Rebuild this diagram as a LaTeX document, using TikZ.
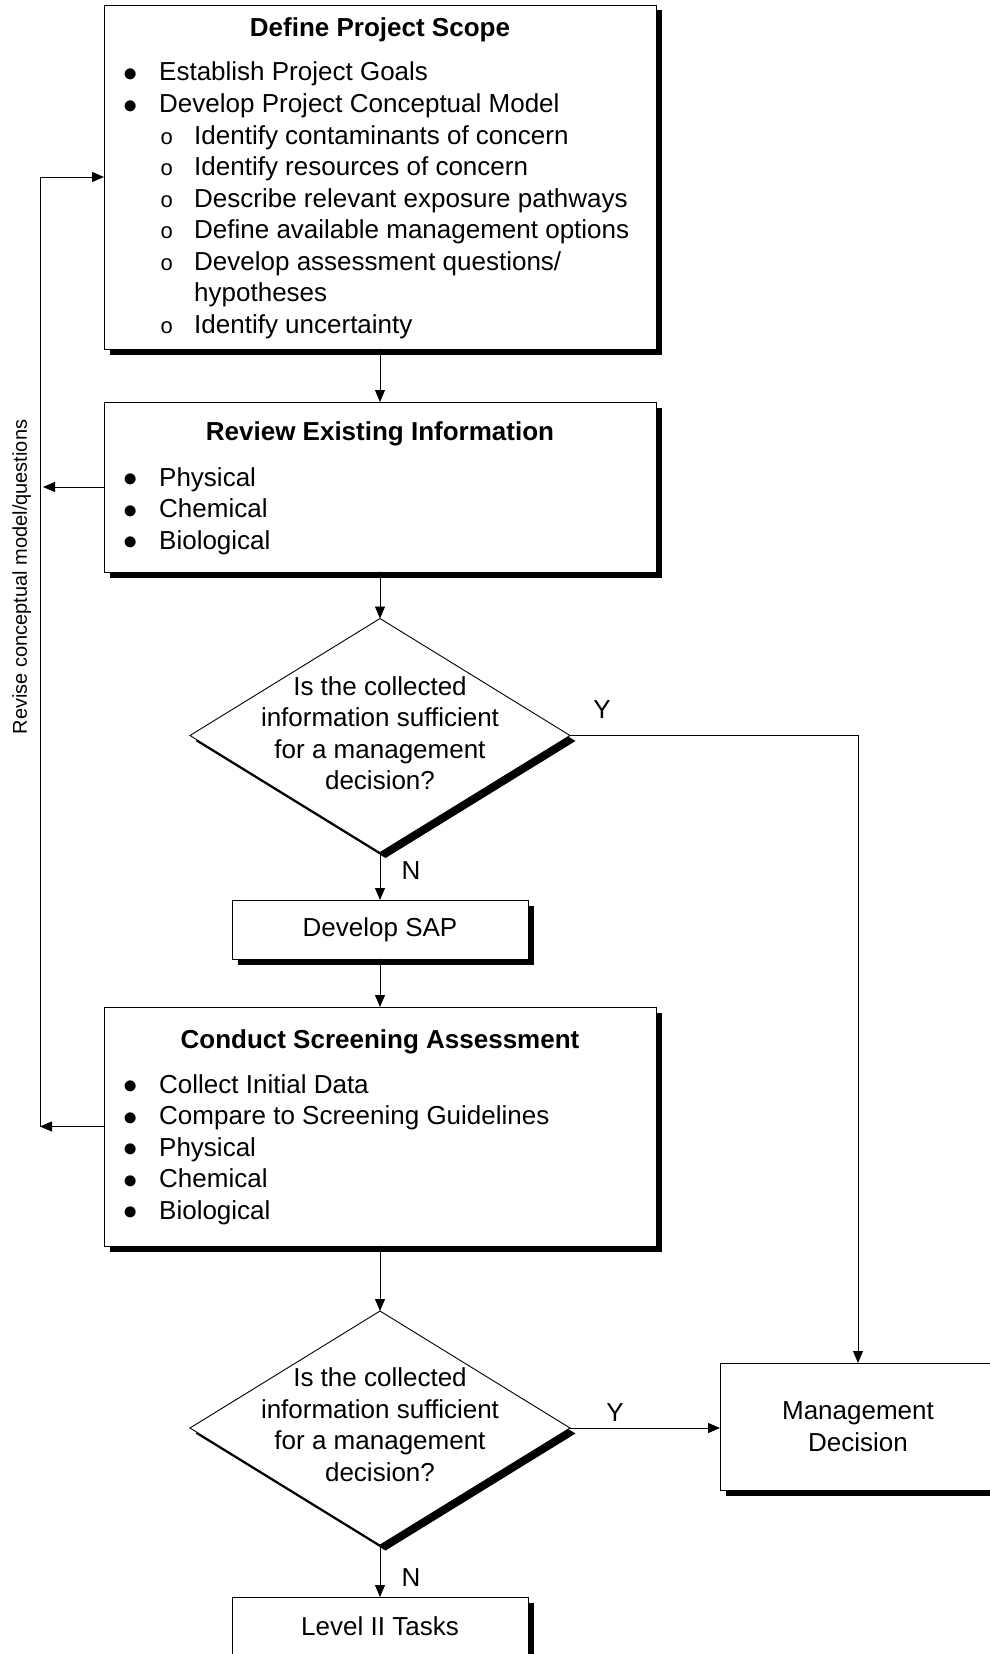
\documentclass[tikz,border=0pt]{standalone}
\usepackage{fontspec}
\usepackage{graphicx}
\setmainfont{Liberation Sans}
\usetikzlibrary{arrows.meta,calc,shapes.geometric,shadows}

\newcommand{\bulletItem}[1]{\makebox[55pt][l]{\hspace{19.5pt}\smash{\raisebox{-0.5pt}{\scalebox{1.15}{\fontsize{26}{26}\selectfont$\bullet$}}}}#1}
\newcommand{\circleItem}[1]{\makebox[90pt][l]{\hspace{56.5pt}{\fontsize{22}{22}\selectfont o}}#1}
\newcommand{\wrapItem}[1]{\makebox[90pt][l]{}#1}

\begin{document}
\begin{tikzpicture}[x=1pt, y=-1pt, line cap=round]

% ---------------- styles ----------------
\tikzset{
  box/.style={draw, line width=0.9pt, fill=white, inner sep=0pt, outer sep=0pt,
    drop shadow={shadow xshift=5.5pt, shadow yshift=-5.5pt, opacity=1, fill=black}},
  bigbox/.style={box, minimum width=552pt},
  smallbox/.style={box, minimum width=296pt, minimum height=59pt},
  decision/.style={box, diamond, minimum width=380pt, minimum height=234pt},
  flow/.style={-{Triangle[length=12pt, width=10pt]}, line width=0.9pt},
  txt/.style={inner sep=0pt, font=\fontsize{26}{31.5}\selectfont},
  title/.style={txt, anchor=base, font=\fontsize{26}{31.5}\selectfont\bfseries},
  entry/.style={txt, anchor=base west},
  label/.style={txt}
}

\useasboundingbox (0,0) rectangle (990,1654);

% ---------------- boxes ----------------
\node[bigbox, minimum height=344pt] (scope) at (380,177) {};
\node[bigbox, minimum height=170pt] (review) at (380,487) {};
\node[decision] (dec1) at (380,735.5) {};
\node[smallbox, txt] (sap) at (380,929.5) {Develop SAP};
\node[bigbox, minimum height=239pt] (screen) at (380,1126.5) {};
\node[decision] (dec2) at (380,1428) {};
\node[box, txt, minimum width=276pt, minimum height=127pt, align=center] (md) at (858,1426.5) {Management\\Decision};
\node[smallbox, txt] (level2) at (380,1626.5) {Level II Tasks};

% ---------------- box texts ----------------
\node[title] (scopeTitle) at ($(scope.north)+(0,32)$) {Define Project Scope};
\foreach \txt [count=\i from 0] in {
    \bulletItem{Establish Project Goals},
    \bulletItem{Develop Project Conceptual Model},
    \circleItem{Identify contaminants of concern},
    \circleItem{Identify resources of concern},
    \circleItem{Describe relevant exposure pathways},
    \circleItem{Define available management options},
    \circleItem{Develop assessment questions/},
    \wrapItem{hypotheses},
    \circleItem{Identify uncertainty}}
  \node[entry] (scope-\i) at ($(scope.north west)+(0,76+31.54*\i)$) {\txt};

\node[title] (reviewTitle) at ($(review.north)+(0,38.5)$) {Review Existing Information};
\foreach \txt [count=\i from 0] in {Physical, Chemical, Biological}
  \node[entry] (review-\i) at ($(review.north west)+(0,84+31.5*\i)$) {\bulletItem{\txt}};

\node[title] (screenTitle) at ($(screen.north)+(0,41.5)$) {Conduct Screening Assessment};
\foreach \txt [count=\i from 0] in {Collect Initial Data, Compare to Screening Guidelines,
    Physical, Chemical, Biological}
  \node[entry] (screen-\i) at ($(screen.north west)+(0,86.3+31.5*\i)$) {\bulletItem{\txt}};

% questions in the diamonds
\foreach \txt [count=\i from 0] in {Is the collected, information sufficient, for a management, decision?} {
  \node[txt, anchor=base] (q1-\i) at ($(dec1.center)+(0,-40.5+31.5*\i)$) {\txt};
  \node[txt, anchor=base] (q2-\i) at ($(dec2.center)+(0,-41.3+31.5*\i)$) {\txt};
}

% ---------------- connectors ----------------
\draw[flow] (scope.south) -- (review.north);
\draw[flow] (review.south) -- (dec1.north);
\draw[flow] (dec1.south) -- (sap.north);
\draw[flow] (sap.south) -- (screen.north);
\draw[flow] (screen.south) -- (dec2.north);
\draw[flow] (dec2.south) -- (level2.north);
\draw[flow] (dec1.east) -| (md.north);
\draw[flow] (dec2.east) -- (dec2.east -| md.west);

\node[label] (yes1) at ($(dec1.east)+(32,-25.5)$) {Y};
\node[label] (no1) at ($(dec1.south)+(31,18)$) {N};
\node[label] (yes2) at ($(dec2.east)+(45,-15)$) {Y};
\node[label] (no2) at ($(dec2.south)+(31,33)$) {N};

% feedback loop on the left
\coordinate (loopTop) at ($(scope.west)+(-64,0)$);
\coordinate (loopBot) at (loopTop |- screen.west);
\coordinate (loopMid) at ($(loopTop |- review.west)+(3,0)$);
\draw[flow] (screen.west) -- (loopBot);
\draw[flow] (loopBot) -- (loopTop) -- (scope.west);
\draw[flow] (review.west) -- (loopMid);
\node[txt, font=\fontsize{20}{24}\selectfont, rotate=90, anchor=base] (revise) at (27,577) {Revise conceptual model/questions};

\end{tikzpicture}
\end{document}
